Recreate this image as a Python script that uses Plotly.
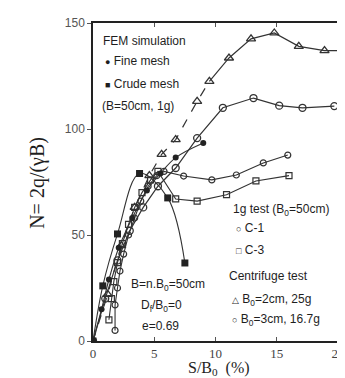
import plotly.graph_objects as go

# ---- data (S/B0 in %, N) ----
tri_x = [0, 1.2, 2.3, 3.4, 4.6, 5.6, 6.75, 8.5, 9.5, 11.1, 12.9, 14.8, 16.8, 18.9, 20.0]
tri_y = [0, 22, 45, 63, 78, 88, 95, 113, 122.5, 133.5, 142.5, 145.3, 139, 137, 137]

cen3_x = [0, 1.0, 2.0, 3.0, 4.1, 5.3, 6.75, 8.5, 10.6, 13.1, 15.2, 17.1, 19.7]
cen3_y = [0, 20, 38, 52, 63, 73, 81.6, 95.7, 110, 114.6, 111, 110, 110.8]

fine_x = [0, 0.7, 1.3, 2.1, 3.2, 4.4, 5.5, 6.75, 9.0]
fine_y = [0, 15, 29, 44, 58, 71, 79, 86.5, 93.4]

crude_x = [0, 0.8, 2.0, 3.8, 6.1, 7.5]
crude_y = [0, 26, 50.5, 79, 67.5, 36.8]

c1_x = [1.8, 1.8, 2.0, 2.2, 2.5, 2.9, 3.4, 3.9, 4.5, 5.2, 5.8, 7.4, 9.7, 11.7, 13.9, 15.9]
c1_y = [5, 17, 25, 33, 41, 50, 58, 66, 73, 78, 80, 77.8, 76, 78.3, 84, 87.7]

c3_x = [1.3, 1.5, 1.7, 2.0, 2.4, 2.9, 3.4, 4.0, 4.7, 5.3, 6.75, 8.5, 10.9, 13.3, 16.0]
c3_y = [10, 20, 28, 37, 46, 55, 63, 70, 76, 80, 67, 66, 69, 75.5, 78]

x_ticks = [0, 5, 10, 15, 20]
y_ticks = [0, 50, 100, 150]

LC = "#333333"
fig = go.Figure()

# centrifuge B0=2cm 25g (triangles): dashed lower branch, solid upper branch
split = 8
fig.add_trace(go.Scatter(x=tri_x[:split + 1], y=tri_y[:split + 1], mode="lines",
                         line=dict(color=LC, width=1.2, dash="dash")))
fig.add_trace(go.Scatter(x=tri_x[split:], y=tri_y[split:], mode="lines",
                         line=dict(color=LC, width=1.2)))
fig.add_trace(go.Scatter(x=tri_x[:-1], y=tri_y[:-1], mode="markers",
                         marker=dict(symbol="triangle-up-open", size=8, color=LC,
                                     line=dict(width=1.3))))
# centrifuge B0=3cm 16.7g (open circles)
fig.add_trace(go.Scatter(x=cen3_x, y=cen3_y, mode="lines+markers",
                         line=dict(color=LC, width=1.2),
                         marker=dict(symbol="circle-open", size=7, color=LC, line=dict(width=1.3))))
# 1g test C-1
fig.add_trace(go.Scatter(x=c1_x, y=c1_y, mode="lines+markers",
                         line=dict(color=LC, width=1.1),
                         marker=dict(symbol="circle-open", size=6, color=LC, line=dict(width=1.2))))
# 1g test C-3
fig.add_trace(go.Scatter(x=c3_x, y=c3_y, mode="lines+markers",
                         line=dict(color=LC, width=1.1),
                         marker=dict(symbol="square-open", size=6, color=LC, line=dict(width=1.2))))
# FEM fine mesh
fig.add_trace(go.Scatter(x=fine_x, y=fine_y, mode="lines+markers",
                         line=dict(color=LC, width=1.1, shape="spline"),
                         marker=dict(symbol="circle", size=6, color="#222222")))
# FEM crude mesh
fig.add_trace(go.Scatter(x=crude_x, y=crude_y, mode="lines+markers",
                         line=dict(color=LC, width=1.1, shape="spline", smoothing=1.0),
                         marker=dict(symbol="square", size=7, color="#222222")))

SANS = "Liberation Sans, Arial, sans-serif"
SERIF = "Liberation Serif, Times New Roman, serif"
TXT = "#1e1e1e"

def sym(ch):
    return "<span style='font-size:9px'>" + ch + "</span> "

def note(x, y, text, size=12):
    fig.add_annotation(x=x, y=y, xref="x", yref="y", text=text, showarrow=False,
                       xanchor="left", yanchor="middle",
                       font=dict(family=SANS, size=size, color=TXT))

note(0.63, 141.5, "FEM simulation")
note(0.8, 132, sym("●") + "Fine mesh")
note(0.8, 121, sym("■") + "Crude mesh")
note(0.55, 111, "(B=50cm, 1g)")

note(11.3, 61.8, "1g test (B<sub>0</sub>=50cm)")
note(11.5, 53.3, sym("○") + "C-1")
note(11.5, 42.9, sym("□") + "C-3")
note(10.9, 30.7, "Centrifuge test")
note(11.2, 19.3, sym("△") + "B<sub>0</sub>=2cm, 25g")
note(11.2, 9.9, sym("○") + "B<sub>0</sub>=3cm, 16.7g")

note(2.94, 26.4, "B=n.B<sub>0</sub>=50cm")
note(3.73, 16.5, "D<sub>f</sub>/B<sub>0</sub>=0")
note(3.8, 7.1, "e=0.69")

# axis titles
fig.add_annotation(x=0.516, y=-0.087, xref="paper", yref="paper",
                   text="S/B<sub>0</sub>  (%)", showarrow=False,
                   xanchor="center", yanchor="middle",
                   font=dict(family=SERIF, size=16, color=TXT))
fig.add_annotation(x=-0.225, y=0.497, xref="paper", yref="paper",
                   text="N= 2q/(γB)", showarrow=False, textangle=-90,
                   xanchor="center", yanchor="middle",
                   font=dict(family=SERIF, size=20, color=TXT))

fig.update_layout(
    width=345, height=378,
    margin=dict(l=85, r=8, t=15, b=45),
    paper_bgcolor="white", plot_bgcolor="white",
    showlegend=False,
    xaxis=dict(range=[0, 20], tickvals=x_ticks, ticktext=[str(v) for v in x_ticks],
               ticks="inside", ticklen=4, tickcolor="#555", showgrid=False, zeroline=False,
               showline=True, linecolor="#222", linewidth=1.5, mirror="ticks",
               tickfont=dict(family=SERIF, size=13, color="#444")),
    yaxis=dict(range=[0, 150], tickvals=y_ticks, ticktext=[str(v) for v in y_ticks],
               ticks="outside", ticklen=4, tickcolor="#555", showgrid=False, zeroline=False,
               showline=True, linecolor="#222", linewidth=1.5, mirror=True,
               tickfont=dict(family=SANS, size=12, color="#555")),
)

fig.write_html("out.html")
